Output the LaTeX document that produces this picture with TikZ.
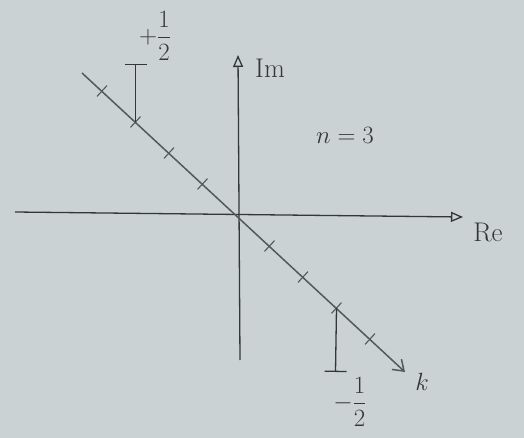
\documentclass[tikz,border=0pt]{standalone}
\usepackage{amsmath}
\usetikzlibrary{arrows.meta,calc}
\definecolor{paper}{RGB}{203,210,211}
\definecolor{pencil}{RGB}{50,55,58}
\definecolor{lead}{RGB}{80,90,92}

\begin{document}
\begin{tikzpicture}[x=1pt,y=-1pt,line width=1.3pt,
  axis/.style={pencil,-{Triangle[open,length=12pt,width=10pt]}},
  kline/.style={lead,line width=1.5pt,-{Straight Barb[length=10pt,width=14pt]}},
  tick/.style={lead,line width=1.1pt},
  bar/.style={pencil,-{Bar[width=22pt]}},
  lbl/.style={pencil,inner sep=1pt,font=\fontsize{27}{32}\selectfont}]
\fill[paper] (0,0) rectangle (524,438);
% axes
\coordinate (O) at (236,215);
\coordinate (ReL) at (15,212);
\coordinate (ReR) at (463,217);
\coordinate (ImB) at (240,360);
\coordinate (ImT) at (238,55);
\draw[axis] (ReL) -- (ReR);
\draw[axis] (ImB) -- (ImT);
% the k line
\coordinate (kA) at (82,73);
\coordinate (kB) at (405,372);
\draw[kline] (kA) -- (kB);
\foreach \i in {-4,-3,-2,-1,1,2,3,4}
  \draw[tick] ($(O)+(\i*33.5,\i*31)$) ++(-5,5.4) -- ++(10,-10.8);
% the two bars
\coordinate (kneg) at ($(O)+(-3*33.5,-3*31)$);
\coordinate (kpos) at ($(O)+(3*33.5,3*31)$);
\coordinate (negtop) at (135.5,64);
\coordinate (posbot) at (335.5,372);
\draw[bar] (kneg) -- (negtop);
\draw[bar] (kpos) -- (posbot);
% labels
\node[lbl] (plus) at (155,36) {$+\dfrac{1}{2}$};
\node[lbl] (minus) at (350,402) {$-\dfrac{1}{2}$};
\node[lbl] (im) at (270,68) {Im};
\node[lbl] (re) at (488,232) {Re};
\node[lbl] (n) at (345,135) {$n=3$};
\node[lbl] (k) at (422,382) {$k$};
\end{tikzpicture}
\end{document}
